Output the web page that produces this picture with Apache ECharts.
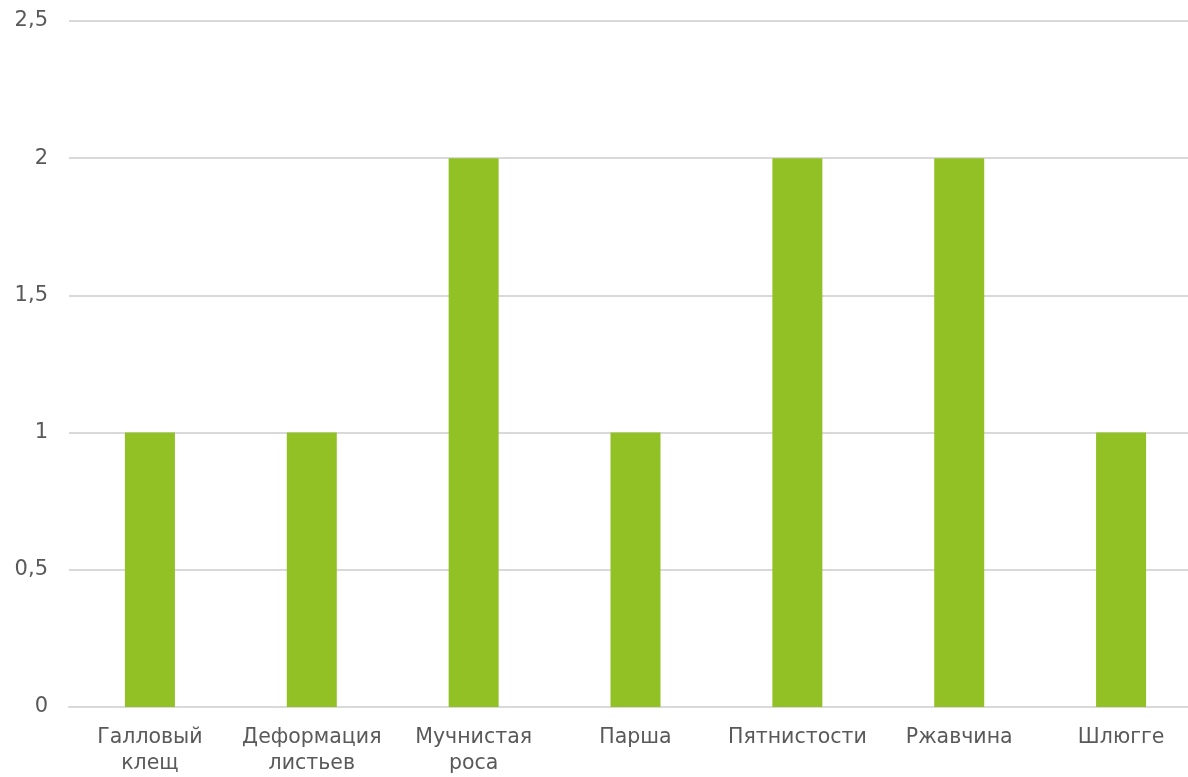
<!DOCTYPE html>
<html>
<head>
    <meta charset="UTF-8">
    <script type="text/javascript" src="https://cdn.jsdelivr.net/npm/echarts@6/dist/echarts.min.js"></script>
    <style>
        html, body { margin: 0; padding: 0; background: #fff; overflow: hidden; }
    </style>
</head>
<body>
    <div id="barChart" style="width:1188px;height:777px"></div>
    <script type="text/javascript">
        var categories = ['Галловый\nклещ', 'Деформация\nлистьев', 'Мучнистая\nроса', 'Парша', 'Пятнистости', 'Ржавчина', 'Шлюгге'];
        var counts = [1, 1, 2, 1, 2, 2, 1];
        var yTicks = [0, 0.5, 1, 1.5, 2, 2.5];

        var myChart = echarts.init(document.getElementById('barChart'));
        var option = {
            animation: false,
            textStyle: { fontFamily: 'DejaVu Sans' },
            grid: { left: 69, right: -14, top: 21, bottom: 70, outerBoundsMode: 'none' },
            xAxis: {
                type: 'category',
                data: categories,
                axisLine: { lineStyle: { color: '#d9d9d9', width: 2 } },
                axisTick: { show: false },
                axisLabel: {
                    color: '#595959',
                    fontSize: 20.5,
                    lineHeight: 26,
                    margin: 18,
                    interval: 0
                }
            },
            yAxis: {
                type: 'value',
                min: yTicks[0],
                max: yTicks[yTicks.length - 1],
                interval: 0.5,
                axisLine: { show: false },
                axisTick: { show: false },
                splitLine: { lineStyle: { color: '#d9d9d9', width: 2 } },
                axisLabel: {
                    color: '#595959',
                    fontSize: 21,
                    margin: 21,
                    formatter: function (v) { return String(v).replace('.', ','); }
                }
            },
            series: [{
                type: 'bar',
                data: counts,
                barWidth: 50,
                itemStyle: { color: '#92c126' }
            }]
        };
        myChart.setOption(option);
    </script>
</body>
</html>
